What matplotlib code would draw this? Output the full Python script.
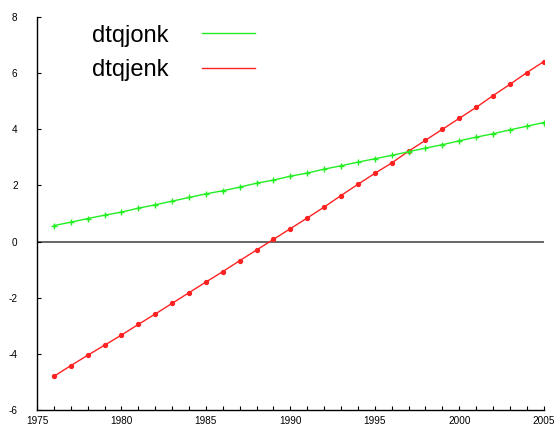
import matplotlib
matplotlib.use("Agg")
import matplotlib.pyplot as plt
from matplotlib.lines import Line2D
from matplotlib.ticker import MultipleLocator

plt.rcParams['font.family'] = ['Liberation Sans', 'DejaVu Sans']
plt.rcParams['axes.unicode_minus'] = False

years = list(range(1976, 2006))
dtqjonk = [0.57, 0.69, 0.82, 0.94, 1.05, 1.19, 1.31, 1.44, 1.57, 1.70,
           1.81, 1.94, 2.08, 2.19, 2.33, 2.44, 2.58, 2.70, 2.83, 2.95,
           3.07, 3.20, 3.33, 3.45, 3.59, 3.72, 3.84, 3.98, 4.11, 4.24]
dtqjenk = [-4.80, -4.42, -4.05, -3.69, -3.33, -2.95, -2.58, -2.20, -1.82, -1.44,
           -1.07, -0.68, -0.30, 0.08, 0.46, 0.84, 1.23, 1.64, 2.04, 2.43,
           2.80, 3.22, 3.61, 4.00, 4.39, 4.78, 5.20, 5.60, 6.02, 6.41]
labels = ['dtqjonk', 'dtqjenk']

fig = plt.figure(figsize=(5.55, 4.30), dpi=100)
ax = fig.add_axes([0.0667, 0.0465, 0.913, 0.914])

ax.axhline(0, color='#666666', lw=1.4, zorder=1)
ax.plot(years, dtqjonk, color='#22ee22', lw=1, marker='+', ms=5, mew=1, zorder=3)
ax.plot(years, dtqjenk, color='#ff2222', lw=1, marker='o', ms=3, mew=0.8, zorder=2)

ax.set_xlim(1975, 2005)
ax.set_ylim(-6, 8)
ax.xaxis.set_major_locator(MultipleLocator(5))
ax.xaxis.set_minor_locator(MultipleLocator(1))
ax.yaxis.set_major_locator(MultipleLocator(2))
ax.tick_params(which='both', direction='in', length=3, width=0.8, labelsize=7.2, pad=4)
ax.tick_params(axis='y', pad=14)

for side in ('top', 'right'):
    ax.spines[side].set_visible(False)
for side in ('left', 'bottom'):
    ax.spines[side].set_linewidth(1)

handles = [Line2D([], [], color='#22ee22', lw=1),
           Line2D([], [], color='#ff2222', lw=1)]
fig.legend(handles, labels, loc='upper left', bbox_to_anchor=(0.166, 0.943),
           frameon=False, markerfirst=False, fontsize=17,
           borderpad=0, borderaxespad=0,
           handlelength=2.25, handletextpad=1.4, labelspacing=0.55)

fig.savefig('out.png', dpi=100)
